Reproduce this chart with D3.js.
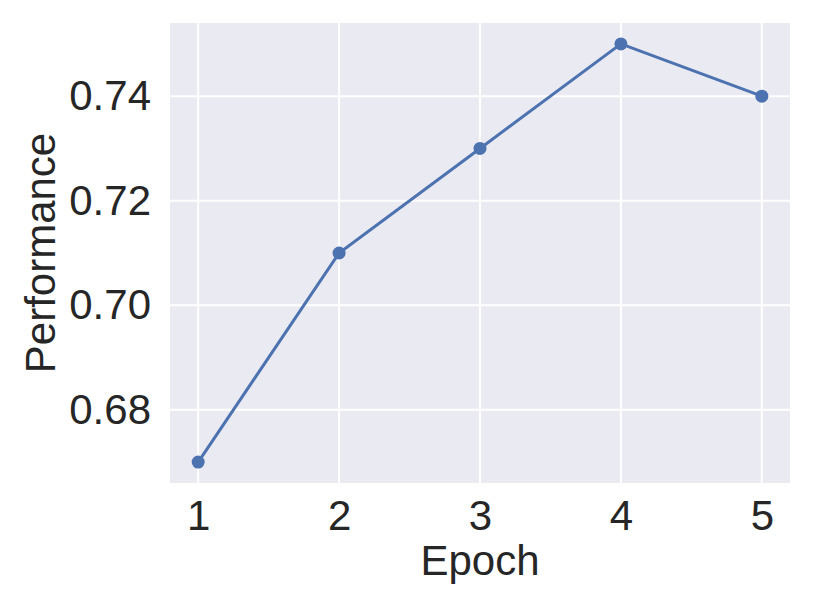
<!DOCTYPE html>
<html>
<head>
<meta charset="utf-8">
<script src="https://cdn.jsdelivr.net/npm/d3@7"></script>
<style>
  body { margin: 0; background: #fff; }
  text { font-family: "Liberation Sans", Arial, sans-serif; fill: #262626; }
</style>
</head>
<body>
<div class="chart"></div>
<script>
// data
var epochs = [1, 2, 3, 4, 5];
var performance = [0.67, 0.71, 0.73, 0.75, 0.74];
var yTicks = [0.68, 0.70, 0.72, 0.74];

var svgWidth = 814, svgHeight = 610;
var margin = { top: 23, right: 24, bottom: 127, left: 170 };
var width = svgWidth - margin.left - margin.right;
var height = svgHeight - margin.top - margin.bottom;

var svg = d3.select(".chart").append("svg")
  .attr("width", svgWidth)
  .attr("height", svgHeight);

var chartGroup = svg.append("g")
  .attr("transform", `translate(${margin.left}, ${margin.top})`);

// matplotlib style 5% margins
var xScale = d3.scaleLinear().domain([0.8, 5.2]).range([0, width]);
var yScale = d3.scaleLinear().domain([0.666, 0.754]).range([height, 0]);

chartGroup.append("rect")
  .attr("width", width)
  .attr("height", height)
  .attr("fill", "#eaeaf2");

// grid
chartGroup.append("g").selectAll("line")
  .data(epochs).enter().append("line")
  .attr("x1", d => xScale(d)).attr("x2", d => xScale(d))
  .attr("y1", 0).attr("y2", height)
  .attr("stroke", "#fff").attr("stroke-width", 2);

chartGroup.append("g").selectAll("line")
  .data(yTicks).enter().append("line")
  .attr("y1", d => yScale(d)).attr("y2", d => yScale(d))
  .attr("x1", 0).attr("x2", width)
  .attr("stroke", "#fff").attr("stroke-width", 2);

// axes (tick labels only, seaborn darkgrid)
var xAxis = d3.axisBottom(xScale).tickValues(epochs).tickFormat(d3.format("d")).tickSize(0).tickPadding(17);
var yAxis = d3.axisLeft(yScale).tickValues(yTicks).tickFormat(d3.format(".2f")).tickSize(0).tickPadding(19);

var gx = chartGroup.append("g")
  .attr("transform", `translate(0, ${height})`)
  .call(xAxis);
var gy = chartGroup.append("g").call(yAxis);

[gx, gy].forEach(function(g) {
  g.select(".domain").remove();
  g.selectAll("text")
    .style("font-family", '"Liberation Sans", Arial, sans-serif')
    .style("font-size", "42px")
    .attr("fill", "#262626");
});

// line + markers
var line = d3.line()
  .x((d, i) => xScale(epochs[i]))
  .y(d => yScale(d));

chartGroup.append("path")
  .datum(performance)
  .attr("d", line)
  .attr("fill", "none")
  .attr("stroke", "#4c72b0")
  .attr("stroke-width", 3);

chartGroup.selectAll("circle")
  .data(performance)
  .enter()
  .append("circle")
  .attr("cx", (d, i) => xScale(epochs[i]))
  .attr("cy", d => yScale(d))
  .attr("r", 6.5)
  .attr("fill", "#4c72b0");

// axis labels
chartGroup.append("text")
  .attr("text-anchor", "middle")
  .attr("transform", "translate(" + (width / 2) + "," + (height + 92) + ")")
  .style("font-size", "42px")
  .text("Epoch");

chartGroup.append("text")
  .attr("text-anchor", "middle")
  .attr("transform", "translate(" + (-115) + "," + (height / 2) + ")rotate(-90)")
  .style("font-size", "42px")
  .text("Performance");
</script>
</body>
</html>
